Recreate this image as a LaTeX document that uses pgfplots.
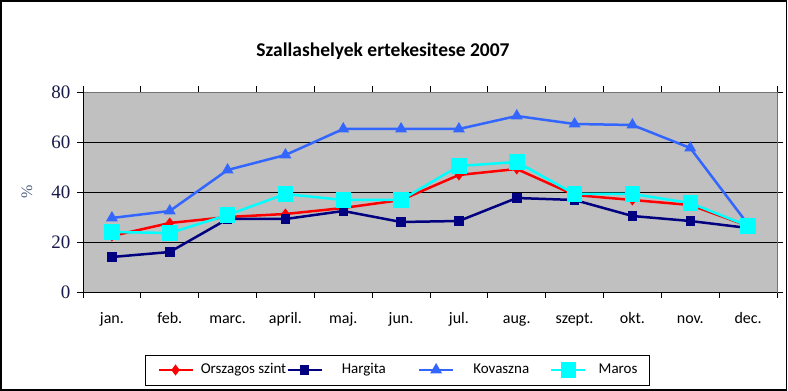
\documentclass[border=0pt]{standalone}
\usepackage{pgfplots}
\pgfplotsset{compat=1.18}
\usepackage{fontspec}
\setmainfont{Carlito}
\newfontfamily\serifnum{Liberation Serif}
\definecolor{plotgray}{HTML}{C0C0C0}
\definecolor{navyc}{HTML}{000080}
\definecolor{bluec}{HTML}{3366FF}
\definecolor{cyanc}{HTML}{00FFFF}
\definecolor{numc}{HTML}{1A1A4A}
\definecolor{pctc}{HTML}{506080}
\begin{document}
\begin{tikzpicture}[x=1pt,y=1pt]
\useasboundingbox (0,0) rectangle (788,391);
\draw[black,line width=1.6pt] (0.8,0.8) rectangle (786.5,390.2);
\node[font=\bfseries\fontsize{19.5}{19.5}\selectfont] at (383,340) {Szallashelyek ertekesitese 2007};
\begin{axis}[
  at={(83pt,99pt)}, anchor=south west,
  scale only axis, width=694pt, height=200pt,
  xmin=0.5, xmax=12.5, ymin=0, ymax=80,
  axis background/.style={fill=plotgray},
  axis line style={draw=gray!90!black, line width=0.8pt},
  xtick={1,...,12},
  xticklabels={jan.,feb.,marc.,april.,maj.,jun.,jul.,aug.,szept.,okt.,nov.,dec.},
  major x tick style={draw=none},
  minor xtick={0.5,1.5,...,12.5},
  minor x tick style={black, line width=0.8pt},
  minor tick length=6pt,
  ytick={0,20,40,60,80},
  major y tick style={black, line width=0.8pt},
  major tick length=6pt,
  tick align=outside,
  ymajorgrids,
  grid style={black, line width=0.8pt},
  xticklabel style={font=\fontsize{16}{16}\selectfont, text height=11pt, text depth=3pt, anchor=center, yshift=-21pt},
  yticklabel style={font=\serifnum\fontsize{19}{19}\selectfont, text=numc, xshift=-3pt},
  /pgf/number format/assume math mode=true,
  ylabel={\%},
  ylabel style={font=\serifnum\fontsize{16}{16}\selectfont, text=pctc, at={(axis description cs:-0.081,0.5)}, anchor=center},
  legend columns=4,
  legend style={at={(axis description cs:0.453,-0.39)}, anchor=center, draw=black, line width=0.8pt,
    font=\fontsize{15}{15}\selectfont, inner ysep=6pt, inner xsep=12pt,
    nodes={inner xsep=0pt, text height=11pt, text depth=3pt},
    /tikz/every even column/.append style={column sep=0pt},
    /tikz/every odd column/.append style={column sep=0pt}},
  legend image code/.code={\draw[#1] (0pt,0pt) -- (34pt,0pt); \draw[#1] plot coordinates {(17pt,0pt)};},
  clip=false,
]
\addplot[red, line width=2.5pt, mark=diamond*, mark size=3.5pt, mark options={solid}] coordinates {
(1,22.4) (2,27.6) (3,30) (4,31.2) (5,33.6) (6,36.8) (7,46.8) (8,49.2) (9,38.8) (10,36.8) (11,34.8) (12,26.4)};
\addlegendentry{\hspace*{7pt}Orszagos szint}
\addplot[navyc, line width=2.5pt, mark=square*, mark size=3.5pt] coordinates {
(1,14) (2,16) (3,29.2) (4,29.2) (5,32.4) (6,28) (7,28.4) (8,37.6) (9,36.8) (10,30.4) (11,28.4) (12,25.6)};
\addlegendentry{\hspace*{19pt}Hargita\hspace*{32pt}}
\addplot[bluec, line width=2.5pt, mark=triangle*, mark size=4.5pt] coordinates {
(1,29.6) (2,32.4) (3,48.8) (4,54.8) (5,65.2) (6,65.2) (7,65.2) (8,70.4) (9,67.2) (10,66.8) (11,57.6) (12,27)};
\addlegendentry{\hspace*{19pt}Kovaszna\hspace*{21pt}}
\addplot[cyanc, line width=2.5pt, mark=square*, mark size=6.5pt] coordinates {
(1,24) (2,23.6) (3,30.8) (4,39.2) (5,36.8) (6,36.8) (7,50.4) (8,52) (9,39.2) (10,39.2) (11,35.6) (12,26.4)};
\addlegendentry{\hspace*{12pt}Maros}
\draw[black, line width=0.8pt] (rel axis cs:0,0) -- (rel axis cs:0,1);
\draw[black, line width=0.8pt] (rel axis cs:0,0) -- (rel axis cs:1,0);
\end{axis}
\end{tikzpicture}
\end{document}
